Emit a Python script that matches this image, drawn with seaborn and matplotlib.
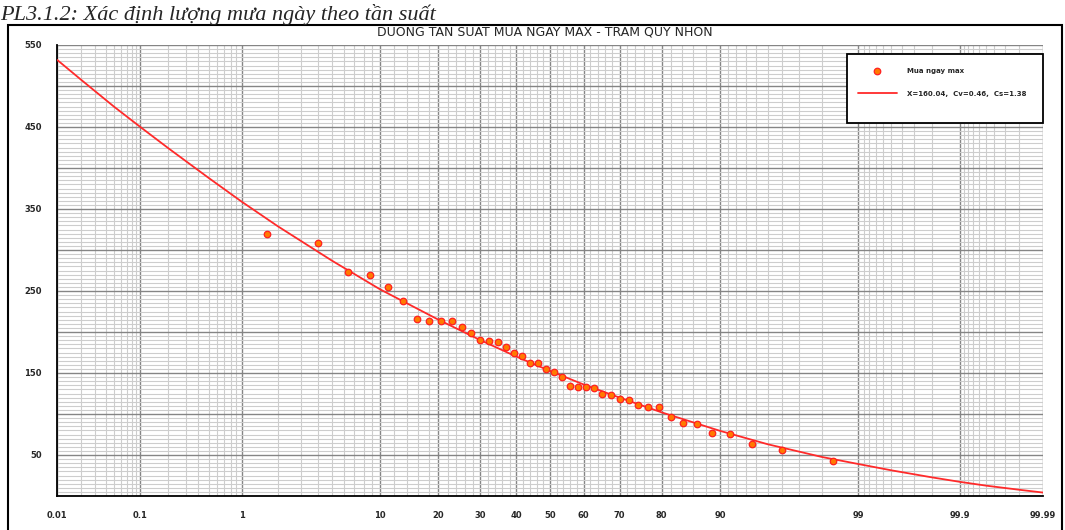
# Duong tan suat mua ngay max - tram Quy Nhon
# truc hoanh: giay xac suat (thang phan phoi chuan), truc tung: luong mua (mm)

import numpy as np
import pandas as pd
import matplotlib
matplotlib.use('Agg')
import matplotlib.pyplot as plt
import seaborn as sns
from matplotlib.patches import Rectangle
from statistics import NormalDist

# tan suat kinh nghiem (%) cua 42 diem do
p_diem = [1.65, 4.01, 6.37, 8.73, 11.08, 13.44, 15.80, 18.16, 20.52, 22.88,
          25.24, 27.59, 29.95, 32.31, 34.67, 37.03, 39.39, 41.75, 44.10, 46.46,
          48.82, 51.18, 53.54, 55.90, 58.25, 60.61, 62.97, 65.33, 67.69, 70.05,
          72.41, 74.76, 77.12, 79.48, 81.84, 84.20, 86.56, 88.92, 91.27, 93.63,
          95.99, 98.35]
# luong mua ngay max (mm)
x_diem = [319.1, 308.2, 273.5, 269.5, 254.9, 237.4, 215.5, 213.0, 213.0, 213.0,
          205.7, 198.4, 190.2, 189.0, 187.8, 181.3, 174.8, 171.3, 162.6, 162.6,
          154.9, 150.9, 145.5, 134.5, 132.6, 132.6, 131.3, 124.8, 123.2, 118.7,
          116.7, 111.0, 108.9, 108.2, 96.0, 88.7, 87.8, 77.2, 75.2, 63.0,
          56.5, 42.7]

# duong tan suat ly luan (doc tu hinh)
p_duong = [0.01, 0.02, 0.05, 0.1, 0.2, 0.5, 1, 2, 5, 10, 20, 30, 40, 50,
           60, 70, 80, 90, 95, 98, 99, 99.5, 99.8, 99.9, 99.95, 99.98, 99.99]
x_duong = [532, 508, 475, 450, 424, 388, 359, 329, 287, 252, 215, 190, 170, 152.5,
           136, 120, 102, 79.5, 63, 47.5, 39, 31.3, 22.8, 17.3, 12.6, 7.6, 4.2]

tick_p = [0.01, 0.1, 1, 10, 20, 30, 40, 50, 60, 70, 80, 90, 99, 99.9, 99.99]
tick_nhan = ['0.01', '0.1', '1', '10', '20', '30', '40', '50', '60', '70', '80',
             '90', '99', '99.9', '99.99']
y_nhan = [50, 150, 250, 350, 450, 550]

tieu_de = 'DUONG TAN SUAT MUA NGAY MAX - TRAM QUY NHON'
chu_thich = 'PL3.1.2: Xác định lượng mưa ngày theo tần suất'
nhan_diem = 'Mua ngay max'
nhan_duong = 'X=160.04,  Cv=0.46,  Cs=1.38'

nd = NormalDist()


def xuoi(p):
    p = np.asarray(p, dtype=float)
    out = np.full(p.shape, np.nan)
    ok = np.isfinite(p)
    q = np.clip(p[ok] / 100.0, 1e-7, 1 - 1e-7)
    out[ok] = [nd.inv_cdf(v) for v in q]
    return out


def nguoc(z):
    z = np.asarray(z, dtype=float)
    out = np.full(z.shape, np.nan)
    ok = np.isfinite(z)
    out[ok] = [nd.cdf(v) * 100.0 for v in z[ok]]
    return out


df_diem = pd.DataFrame({'p': p_diem, 'x': x_diem})
df_duong = pd.DataFrame({'p': p_duong, 'x': x_duong})

sns.set_style('white')
plt.rcParams['font.family'] = ['DejaVu Sans']

W, H = 1065, 530
fig = plt.figure(figsize=(W / 100, H / 100), dpi=100)
ax = fig.add_axes([57 / W, 34 / H, 986 / W, 451 / H])

sns.lineplot(data=df_duong, x='p', y='x', ax=ax, color='#ff2a2a', lw=1.3,
             label=nhan_duong, errorbar=None, zorder=3)
sns.scatterplot(data=df_diem, x='p', y='x', ax=ax, s=22, color='#ff7a00',
                edgecolor='#ff2020', linewidth=0.9, label=nhan_diem, zorder=4)

ax.set_xscale('function', functions=(xuoi, nguoc))
ax.set_xlim(0.01, 99.99)
ax.set_ylim(0, 550)

# luoi phu truc hoanh
luoi_p = []
for a, b, s in [(0.01, 0.1, 0.01), (0.1, 1, 0.1), (1, 10, 1), (10, 90, 2),
                (90, 99, 1), (99, 99.9, 0.1), (99.9, 99.99, 0.01)]:
    luoi_p += list(np.round(np.arange(a + s, b - s / 2, s), 4))
ax.set_xticks(tick_p)
ax.set_xticklabels(tick_nhan)
ax.set_xticks(luoi_p, minor=True)

ax.set_yticks(np.arange(0, 551, 50))
ax.set_yticklabels([str(v) if v in y_nhan else '' for v in range(0, 551, 50)])
ax.set_yticks(np.arange(0, 551, 5), minor=True)

ax.grid(which='major', color='#858585', lw=1.0)
ax.grid(which='minor', color='#cdcdcd', lw=0.8)
ax.set_axisbelow(True)

ax.tick_params(which='major', direction='inout', length=10, width=1.2,
               color='black', labelsize=6, pad=6)
ax.tick_params(which='minor', length=0)
for t in ax.get_xticklabels() + ax.get_yticklabels():
    t.set_fontweight('bold')

for s in ['top', 'right']:
    ax.spines[s].set_visible(False)
for s in ['left', 'bottom']:
    ax.spines[s].set_color('black')
    ax.spines[s].set_linewidth(1.3)
ax.set_xlabel('')
ax.set_ylabel('')

# khung chu giai
ax.add_patch(Rectangle((847 / W, 1 - 123 / H), 196 / W, 69 / H,
                       transform=fig.transFigure, facecolor='white',
                       edgecolor='black', lw=1.3, zorder=5, clip_on=False))
h, l = ax.get_legend_handles_labels()
leg = ax.legend([h[1], h[0]], [l[1], l[0]], loc='upper left',
                bbox_to_anchor=(851 / W, 1 - 61 / H),
                bbox_transform=fig.transFigure, frameon=False,
                handlelength=5.6, handletextpad=1.4,
                labelspacing=2.4, borderpad=0.5,
                prop={'weight': 'bold', 'size': 5})
leg.set_zorder(6)

fig.text(545 / W, 1 - 32 / H, tieu_de, ha='center', va='center', fontsize=9)
fig.text(0, 1 - 20 / H, chu_thich, ha='left', va='baseline', fontsize=16,
         style='italic', family=['Liberation Serif', 'DejaVu Serif'])
fig.add_artist(Rectangle((8 / W, -0.05), 1054 / W, 1.05 - 25 / H,
                         transform=fig.transFigure, fill=False,
                         edgecolor='black', lw=1.5))

fig.savefig('out.png', dpi=100)
